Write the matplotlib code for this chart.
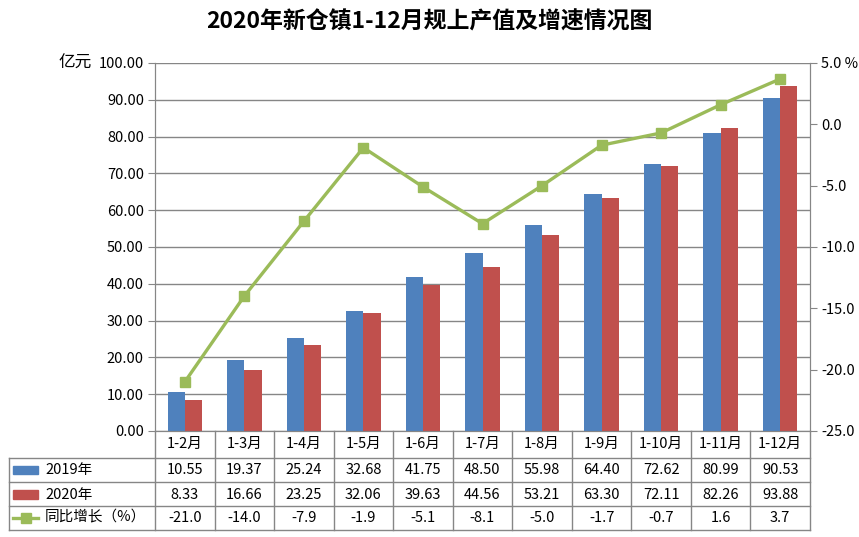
import numpy as np
import matplotlib.pyplot as plt

plt.rcParams['font.family'] = ['Noto Sans CJK SC', 'DejaVu Sans']

months = ["1-2月", "1-3月", "1-4月", "1-5月", "1-6月", "1-7月", "1-8月", "1-9月", "1-10月", "1-11月", "1-12月"]
v2019 = [10.55, 19.37, 25.24, 32.68, 41.75, 48.50, 55.98, 64.40, 72.62, 80.99, 90.53]
v2020 = [8.33, 16.66, 23.25, 32.06, 39.63, 44.56, 53.21, 63.30, 72.11, 82.26, 93.88]
growth = [-21.0, -14.0, -7.9, -1.9, -5.1, -8.1, -5.0, -1.7, -0.7, 1.6, 3.7]

blue = "#4F81BD"
red = "#C0504D"
green = "#9BBB59"
gray = "#868686"
fs = 10.5

fig = plt.figure(figsize=(8.59, 5.37), dpi=100, facecolor='w')
ax = fig.add_axes([155/859, 1-431/537, 655/859, 368/537])
ax2 = ax.twinx()

x = np.arange(len(months))
w = 0.29
ax.bar(x - w/2, v2019, w, color=blue, zorder=3)
ax.bar(x + w/2, v2020, w, color=red, zorder=3)
ax.set_xlim(-0.5, len(months) - 0.5)
ax.set_ylim(0, 100)
ax.set_yticks(np.arange(0, 101, 10))
ax.set_yticklabels(["%.2f" % t for t in np.arange(0, 101, 10)], fontsize=fs)
ax.yaxis.grid(True, color=gray, linewidth=1.0, zorder=0)
ax.set_xticks([])
ax.spines['top'].set_visible(False)
ax2.spines['top'].set_visible(False)
for a in (ax, ax2):
    for s in ['left', 'right', 'bottom']:
        a.spines[s].set_color(gray)
ax.tick_params(axis='y', colors=gray, labelcolor='black', length=5, pad=3)

ax2.plot(x, growth, color=green, linewidth=2.4, marker='s', markersize=7,
         markerfacecolor=green, markeredgecolor=green, zorder=5)
ax2.set_ylim(-25, 5)
rt = np.arange(-25, 6, 5)
ax2.set_yticks(rt)
ax2.set_yticklabels([("%.1f %%" % t) if t == 5 else "%.1f" % t for t in rt], fontsize=fs)
ax2.tick_params(axis='y', colors=gray, labelcolor='black', length=5, pad=3)

fig.text(0.5, 1-22/537, "2020年新仓镇1-12月规上产值及增速情况图", ha='center', va='center',
         fontsize=16.5, fontweight='bold')
fig.text(75/859, 1-63/537, "亿元", ha='center', va='center', fontsize=12)

# data table below the plot
tr = ax.get_xaxis_transform()
row_y = [-0.0353, -0.106, -0.1726, -0.236]
line_y = [-0.0734, -0.1386, -0.2038, -0.269]
left = -0.2229
for i in range(len(months)):
    ax.text(i, row_y[0], months[i], transform=tr, ha='center', va='center', fontsize=fs, clip_on=False)
    ax.text(i, row_y[1], "%.2f" % v2019[i], transform=tr, ha='center', va='center', fontsize=fs, clip_on=False)
    ax.text(i, row_y[2], "%.2f" % v2020[i], transform=tr, ha='center', va='center', fontsize=fs, clip_on=False)
    ax.text(i, row_y[3], "%.1f" % growth[i], transform=tr, ha='center', va='center', fontsize=fs, clip_on=False)
for i in range(len(months) + 1):
    ax.plot([i - 0.5, i - 0.5], [0, line_y[-1]], transform=tr, color=gray, lw=1, clip_on=False)
for yy in line_y:
    ax.plot([left, 1.0], [yy, yy], transform=ax.transAxes, color=gray, lw=1, clip_on=False)
ax.plot([left, left], [line_y[0], line_y[-1]], transform=ax.transAxes, color=gray, lw=1, clip_on=False)

# legend keys inside the table
sw0, sw1 = -0.2168, -0.1786
tx = -0.1679
ax.add_patch(plt.Rectangle((sw0, row_y[1] - 0.012), sw1 - sw0, 0.024, transform=ax.transAxes,
                           color=blue, clip_on=False))
ax.add_patch(plt.Rectangle((sw0, row_y[2] - 0.012), sw1 - sw0, 0.024, transform=ax.transAxes,
                           color=red, clip_on=False))
ax.plot([sw0, sw1], [row_y[3], row_y[3]], transform=ax.transAxes, color=green, lw=2.4, clip_on=False)
ax.plot([(sw0 + sw1) / 2], [row_y[3]], transform=ax.transAxes, color=green, marker='s',
        markersize=7, clip_on=False)
ax.text(tx, row_y[1], "2019年", transform=ax.transAxes, ha='left', va='center', fontsize=fs)
ax.text(tx, row_y[2], "2020年", transform=ax.transAxes, ha='left', va='center', fontsize=fs)
ax.text(tx, row_y[3], "同比增长（%）", transform=ax.transAxes, ha='left', va='center', fontsize=fs)

fig.savefig("out.png", dpi=100)
